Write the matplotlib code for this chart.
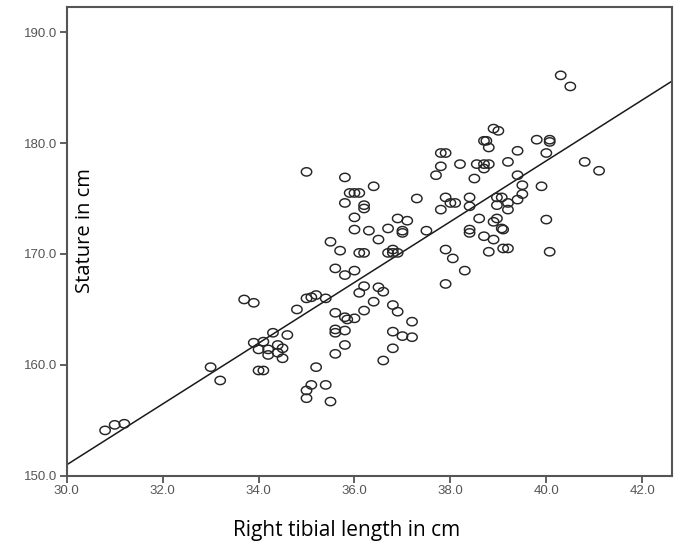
import numpy as np
import matplotlib
matplotlib.use("Agg")
from matplotlib import pyplot as plt
from matplotlib.path import Path

# right tibial length (cm) and stature (cm)
tibia = [
    30.8, 31.0, 31.2, 33.0, 33.2, 33.7, 33.9, 33.9, 34.1, 34.3,
    34.6, 34.0, 34.2, 34.4, 34.5, 34.2, 34.4, 34.5, 34.0, 34.1,
    34.8, 35.0, 35.1, 35.2, 35.4, 35.2, 35.1, 35.0, 35.0, 35.4,
    35.5, 35.0, 35.8, 36.4, 35.9, 36.0, 36.1, 35.8, 36.2, 36.2,
    36.0, 36.9, 37.1, 37.3, 36.0, 36.3, 36.7, 37.0, 37.0, 37.5,
    35.5, 35.7, 36.5, 36.1, 36.2, 36.7, 36.8, 36.9, 36.8, 37.8,
    37.9, 37.8, 37.7, 37.8, 37.9, 37.9, 38.05, 38.3, 38.8, 39.1,
    39.2, 40.07, 35.6, 35.8, 36.0, 36.2, 36.1, 36.5, 36.6, 36.4,
    36.2, 36.8, 36.9, 37.2, 35.6, 35.8, 35.85, 36.0, 35.6, 35.6,
    35.8, 35.8, 35.6, 36.8, 37.0, 37.2, 36.8, 36.6, 40.3, 40.5,
    38.9, 39.0, 38.7, 38.75, 38.8, 39.8, 40.07, 40.07, 40.0, 39.4,
    38.2, 38.55, 38.7, 38.8, 38.7, 39.2, 40.8, 41.1, 38.5, 39.4,
    39.5, 39.5, 39.9, 39.4, 37.9, 38.0, 38.1, 38.4, 38.4, 38.97,
    39.07, 38.97, 39.2, 39.2, 40.0, 38.6, 38.9, 38.97, 38.4, 38.4,
    39.07, 39.1, 38.7, 38.9,
]
stature = [
    154.1, 154.6, 154.7, 159.8, 158.6, 165.9, 165.6, 162.0, 162.1, 162.9,
    162.7, 161.4, 161.4, 161.8, 161.5, 160.9, 161.1, 160.6, 159.5, 159.5,
    165.0, 166.0, 166.1, 166.3, 166.0, 159.8, 158.2, 157.7, 157.0, 158.2,
    156.7, 177.4, 176.9, 176.1, 175.5, 175.5, 175.5, 174.6, 174.4, 174.1,
    173.3, 173.2, 173.0, 175.0, 172.2, 172.1, 172.3, 172.1, 171.9, 172.1,
    171.1, 170.3, 171.3, 170.1, 170.1, 170.1, 170.1, 170.1, 170.4, 179.1,
    179.1, 177.9, 177.1, 174.0, 170.4, 167.3, 169.6, 168.5, 170.2, 170.5,
    170.5, 170.2, 168.7, 168.1, 168.5, 167.1, 166.5, 167.0, 166.6, 165.7,
    164.9, 165.4, 164.8, 163.9, 164.7, 164.3, 164.1, 164.2, 163.2, 162.9,
    163.1, 161.8, 161.0, 163.0, 162.6, 162.5, 161.5, 160.4, 186.1, 185.1,
    181.3, 181.1, 180.2, 180.2, 179.6, 180.3, 180.3, 180.1, 179.1, 179.3,
    178.1, 178.1, 178.1, 178.1, 177.7, 178.3, 178.3, 177.5, 176.8, 177.1,
    176.2, 175.4, 176.1, 174.9, 175.1, 174.6, 174.6, 175.1, 174.3, 175.1,
    175.1, 174.4, 174.6, 174.0, 173.1, 173.2, 172.9, 173.2, 172.2, 171.9,
    172.3, 172.2, 171.6, 171.3,
]

# fit line as drawn in the chart
intercept = 68.8
slope = 2.74

x_ticks = [30.0, 32.0, 34.0, 36.0, 38.0, 40.0, 42.0]
y_ticks = [150.0, 160.0, 170.0, 180.0, 190.0]

# slightly flattened open circle, like the SPSS marker
t = np.linspace(0, 2 * np.pi, 40)
ellipse = Path(np.column_stack([np.cos(t), 0.8 * np.sin(t)]), closed=True)

fig = plt.figure(figsize=(6.74, 5.47), dpi=100)
ax = fig.add_axes([0.099, 0.130, 0.898, 0.857])

ax.scatter(tibia, stature, s=56, marker=ellipse, facecolors="none",
           edgecolors="#262626", linewidths=1.05, zorder=3)

xlim = (30.0, 42.62)
xs = np.array(xlim)
ax.plot(xs, intercept + slope * xs, color="#1a1a1a", lw=1.1, zorder=2)

ax.set_xlim(*xlim)
ax.set_ylim(150.0, 192.25)
ax.set_xticks(x_ticks)
ax.set_yticks(y_ticks)
ax.set_xticklabels([f"{v:.1f}" for v in x_ticks])
ax.set_yticklabels([f"{v:.1f}" for v in y_ticks])

for lab in ax.get_xticklabels() + ax.get_yticklabels():
    lab.set_fontfamily("Liberation Sans")
    lab.set_fontsize(9.5)
    lab.set_color("#555555")

ax.tick_params(direction="out", length=5, width=1.2, color="#444444", pad=1.5)
for side in ax.spines.values():
    side.set_color("#555555")
    side.set_linewidth(1.5)

ax.text(0.031, 0.524, "Stature in cm", transform=ax.transAxes, rotation=90,
        ha="center", va="center", fontsize=14.5, family="Open Sans")
fig.text(0.514, 0.031, "Right tibial length in cm", ha="center", va="center",
         fontsize=15, family="Open Sans")

fig.savefig("out.png", dpi=100)
